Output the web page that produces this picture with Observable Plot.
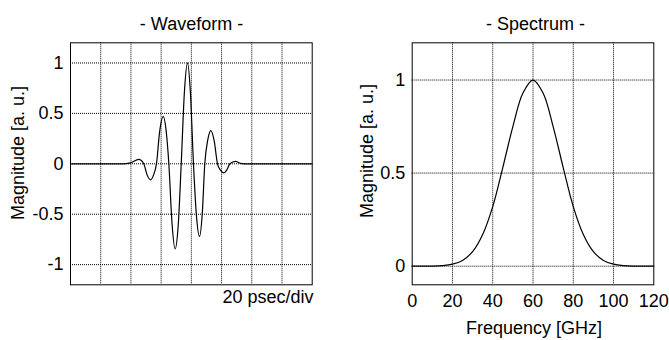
<!DOCTYPE html>
<html>
<head>
<meta charset="utf-8">
<script src="https://cdn.jsdelivr.net/npm/d3@7"></script>
<script src="https://cdn.jsdelivr.net/npm/@observablehq/plot@0.6"></script>
<style>
  html, body { margin: 0; padding: 0; background: #fff; }
  #root { position: relative; width: 669px; height: 340px; overflow: hidden;
          font-family: "Liberation Sans", Arial, sans-serif; font-size: 18px; color: #000; }
  .abs { position: absolute; white-space: nowrap; line-height: 1; }
  .vlabel { transform: translate(-50%, -50%) rotate(-90deg); }
  .center { transform: translate(-50%, -50%); }
  svg { position: absolute; top: 34px; }
</style>
</head>
<body>
<div id="root"></div>
<script>
// ---- Waveform (time in psec, magnitude in a.u.) ----
const waveTime = [0, 30, 34.2, 39.7, 45.2, 48.5, 50.7, 53.0, 55.0, 56.9, 59.1, 61.4, 63.3, 65.1, 67.2, 69.3, 71.3, 73.3, 75.4, 77.5, 79.4, 81.4, 83.4, 85.4, 87.2, 88.9, 90.9, 92.9, 95.1, 97.3, 99.4, 101.5, 103.5, 105.5, 109.2, 112.5, 117, 130, 160];
const waveMag  = [0, 0,  0,    0.01, 0.043, 0,  -0.11, -0.16, -0.11, 0, 0.33, 0.47, 0.33, 0, -0.59, -0.845, -0.61, 0, 0.71, 1.0, 0.70, 0, -0.52, -0.72, -0.50, 0, 0.24, 0.33, 0.23, 0, -0.065, -0.09, -0.06, 0, 0.025, 0.005, 0, 0, 0];

// ---- Spectrum (frequency in GHz, magnitude in a.u.) ----
const specFreq = [0, 5, 10, 15, 20, 25, 30, 35, 40, 45, 50, 55, 60, 65, 70, 75, 80, 85, 90, 95, 100, 105, 110, 115, 120];
const specMag  = [0, 0, 0.0003, 0.003, 0.011, 0.031, 0.078, 0.17, 0.32, 0.53, 0.75, 0.93, 1.0, 0.93, 0.75, 0.53, 0.32, 0.17, 0.078, 0.031, 0.011, 0.003, 0.0003, 0, 0];

// ---- Tick labels / grid ----
const waveYTicks = [-1, -0.5, 0, 0.5, 1];
const waveXGrid  = [20, 40, 60, 80, 100, 120, 140];
const specXTicks = [0, 20, 40, 60, 80, 100, 120];
const specYTicks = [0, 0.5, 1];

const waveData = waveTime.map((t, i) => ({t, v: waveMag[i]}));
const specData = specFreq.map((f, i) => ({f, v: specMag[i]}));

const font = "'Liberation Sans', Arial, sans-serif";
const gridStyle = {stroke: "#000", strokeOpacity: 1, strokeWidth: 1, strokeDasharray: "1,1"};
const fmt = d => String(d);

const root = document.getElementById("root");

const left = Plot.plot({
  width: 335, height: 306,
  marginLeft: 70, marginRight: 23.3, marginTop: 8.3, marginBottom: 55.7,
  style: {fontFamily: font, fontSize: "18px", color: "#000", background: "transparent"},
  x: {domain: [0, 160]},
  y: {domain: [-1.2, 1.2]},
  marks: [
    Plot.gridX(waveXGrid, gridStyle),
    Plot.gridY(waveYTicks, gridStyle),
    Plot.line(waveData, {x: "t", y: "v", curve: "monotone-x", stroke: "#000", strokeWidth: 1.2}),
    Plot.frame({stroke: "#000", strokeWidth: 1}),
    Plot.axisY(waveYTicks, {tickSize: 0, tickPadding: 7, tickFormat: fmt, label: null, fontSize: 18}),
    Plot.axisX({ticks: [], label: null, tickSize: 0})
  ]
});
left.style.left = "0px";
root.appendChild(left);

const right = Plot.plot({
  width: 334, height: 306,
  marginLeft: 76.7, marginRight: 15.7, marginTop: 8.3, marginBottom: 55.7,
  style: {fontFamily: font, fontSize: "18px", color: "#000", background: "transparent"},
  x: {domain: [0, 120]},
  y: {domain: [-0.1, 1.2]},
  marks: [
    Plot.gridX(specXTicks.slice(1, -1), gridStyle),
    Plot.gridY(specYTicks, gridStyle),
    Plot.line(specData, {x: "f", y: "v", curve: "catmull-rom", stroke: "#000", strokeWidth: 1.2}),
    Plot.frame({stroke: "#000", strokeWidth: 1}),
    Plot.axisY(specYTicks, {tickSize: 0, tickPadding: 7, tickFormat: fmt, label: null, fontSize: 18}),
    Plot.axisX(specXTicks, {tickSize: 0, tickPadding: 9, tickFormat: fmt, label: null, fontSize: 18})
  ]
});
right.style.left = "335px";
root.appendChild(right);

function addText(txt, x, y, cls) {
  const d = document.createElement("div");
  d.className = "abs " + cls;
  d.style.left = x + "px";
  d.style.top = y + "px";
  d.textContent = txt;
  root.appendChild(d);
  return d;
}
addText("- Waveform -", 191.5, 23.5, "center");
addText("- Spectrum -", 535.5, 23.5, "center");
addText("Magnitude [a. u.]", 18, 153, "vlabel");
addText("Magnitude [a. u.]", 367, 151, "vlabel");
addText("Frequency [GHz]", 534, 328, "center");
const psec = addText("20 psec/div", 313.5, 297, "");
psec.style.transform = "translate(-100%, -50%)";
</script>
</body>
</html>
